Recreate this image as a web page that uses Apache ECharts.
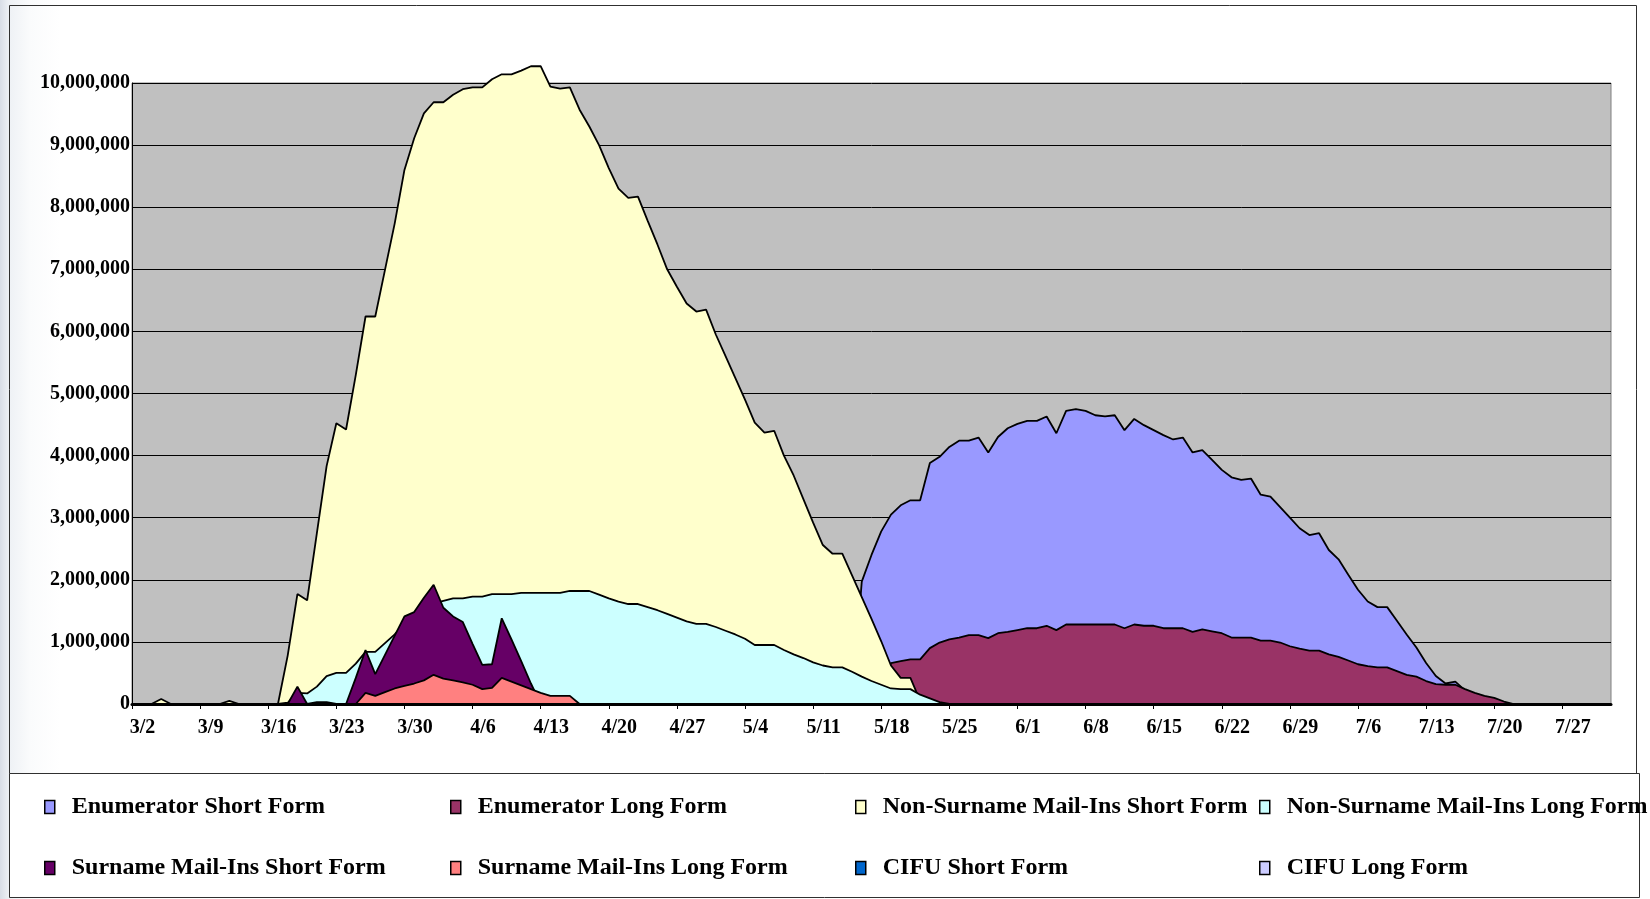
<!DOCTYPE html>
<html>
<head>
<meta charset="utf-8">
<title>Forms processed per day</title>
<script src="https://cdn.jsdelivr.net/npm/echarts@6/dist/echarts.min.js"></script>
<style>
    html, body { margin: 0; padding: 0; }
    body {
        width: 1650px; height: 899px; overflow: hidden;
        background: linear-gradient(to right, #d8dde6 0px, #eef1f5 9px, #fafbfc 30px, #ffffff 60px);
    }
    #chart { width: 1650px; height: 899px; }
</style>
</head>
<body>
<div id="chart"></div>
<script>
// days shown on the axis: 3/2 .. 8/1
const DAYS = 153;
const months = [[3, 31], [4, 30], [5, 31], [6, 30], [7, 31], [8, 31]];

// series values in millions of forms
// each list starts at the given day index, every other day is 0
const enumShortStart = 74;
const enumShort = [0, 1.97, 2.4, 2.78, 3.05, 3.2, 3.28, 3.28, 3.88, 3.98, 4.14, 4.24, 4.24, 4.29, 4.05, 4.3,
    4.44, 4.51, 4.56, 4.56, 4.63, 4.36, 4.72, 4.75, 4.72, 4.65, 4.63, 4.65, 4.41, 4.59, 4.49, 4.41, 4.33, 4.26,
    4.29, 4.05, 4.09, 3.93, 3.77, 3.65, 3.61, 3.63, 3.37, 3.34, 3.17, 3.0, 2.83, 2.72, 2.75, 2.48, 2.33, 2.08,
    1.84, 1.65, 1.56, 1.56, 1.34, 1.12, 0.91, 0.66, 0.45, 0.33, 0.36, 0.22, 0];

const enumLongStart = 77;
const enumLong = [0, 0.66, 0.69, 0.72, 0.72, 0.9, 0.99, 1.04, 1.07, 1.11, 1.11, 1.06, 1.14, 1.16, 1.19, 1.22,
    1.22, 1.26, 1.19, 1.28, 1.28, 1.28, 1.28, 1.28, 1.28, 1.22, 1.28, 1.26, 1.26, 1.22, 1.22, 1.22, 1.16, 1.2,
    1.17, 1.14, 1.07, 1.07, 1.07, 1.02, 1.02, 0.99, 0.93, 0.89, 0.86, 0.86, 0.8, 0.76, 0.7, 0.64, 0.61, 0.59,
    0.59, 0.53, 0.47, 0.44, 0.37, 0.32, 0.31, 0.31, 0.24, 0.18, 0.13, 0.1, 0.04, 0];

const nonSurnameShortStart = 0;
const nonSurnameShort = [0, 0, 0, 0.08, 0, 0, 0, 0, 0, 0, 0.05, 0, 0, 0, 0, 0,
    0.78, 1.77, 1.67, 2.75, 3.83, 4.52, 4.42, 5.3, 6.24, 6.24, 6.99, 7.74, 8.6, 9.11, 9.51, 9.69, 9.69, 9.81,
    9.9, 9.93, 9.93, 10.06, 10.14, 10.14, 10.2, 10.27, 10.27, 9.94, 9.91, 9.93, 9.57, 9.3, 9.0, 8.63, 8.3,
    8.15, 8.17, 7.78, 7.4, 7.0, 6.72, 6.45, 6.32, 6.35, 5.95, 5.6, 5.25, 4.9, 4.53, 4.37, 4.4, 4.0, 3.68, 3.3,
    2.92, 2.56, 2.42, 2.42, 2.07, 1.72, 1.37, 1.01, 0.62, 0.42, 0.42, 0.05, 0];

const nonSurnameLongStart = 16;
const nonSurnameLong = [0.02, 0.18, 0.17, 0.28, 0.45, 0.5, 0.5, 0.65, 0.84, 0.84, 0.98, 1.12, 1.3, 1.42,
    1.55, 1.62, 1.66, 1.7, 1.7, 1.73, 1.73, 1.77, 1.77, 1.77, 1.79, 1.79, 1.79, 1.79, 1.79, 1.82, 1.82, 1.82,
    1.76, 1.7, 1.65, 1.61, 1.61, 1.56, 1.51, 1.45, 1.39, 1.33, 1.29, 1.29, 1.24, 1.18, 1.12, 1.05, 0.95, 0.95,
    0.95, 0.87, 0.8, 0.74, 0.67, 0.62, 0.59, 0.59, 0.52, 0.44, 0.37, 0.31, 0.25, 0.24, 0.24, 0.15, 0.09, 0.03, 0];

const surnameShortStart = 16;
const surnameShort = [0, 0.28, 0, 0.03, 0.03, 0, 0, 0.42, 0.87, 0.48, 0.79, 1.1, 1.41, 1.48, 1.71, 1.92,
    1.55, 1.41, 1.32, 0.97, 0.63, 0.64, 1.38, 1.04, 0.69, 0.33, 0];

const surnameLongStart = 23;
const surnameLong = [0, 0.18, 0.13, 0.19, 0.25, 0.29, 0.33, 0.38, 0.47, 0.41, 0.38, 0.35, 0.31, 0.24, 0.26,
    0.42, 0.36, 0.3, 0.24, 0.18, 0.13, 0.13, 0.13, 0];

const cifuShort = [];
const cifuLong = [];

const names = [
    'Enumerator Short Form', 'Enumerator Long Form',
    'Non-Surname Mail-Ins Short Form', 'Non-Surname Mail-Ins Long Form',
    'Surname Mail-Ins Short Form', 'Surname Mail-Ins Long Form',
    'CIFU Short Form', 'CIFU Long Form'
];
const colors = ['#9999ff', '#993366', '#ffffcc', '#ccffff', '#660066', '#ff8080', '#0066cc', '#ccccff'];

// place a list on the full day range
function onDays(start, values) {
    const out = new Array(DAYS).fill(0);
    values.forEach((v, i) => { out[start + i] = v; });
    return out;
}

const categories = [];
(function () {
    let m = 0, d = 2;
    for (let i = 0; i < DAYS; i++) {
        categories.push(months[m][0] + '/' + d);
        d++;
        if (d > months[m][1]) { d = 1; m++; }
    }
})();

const seriesData = [
    onDays(enumShortStart, enumShort),
    onDays(enumLongStart, enumLong),
    onDays(nonSurnameShortStart, nonSurnameShort),
    onDays(nonSurnameLongStart, nonSurnameLong),
    onDays(surnameShortStart, surnameShort),
    onDays(surnameLongStart, surnameLong),
    onDays(0, cifuShort),
    onDays(0, cifuLong)
];

const FONT = "'Liberation Serif', 'Times New Roman', serif";

const chart = echarts.init(document.getElementById('chart'));

// legend: 2 rows x 4 columns
const legendCols = [44, 450, 855, 1259];
const legendRows = [795, 856];
const legends = names.map((name, i) => ({
    data: [name],
    left: legendCols[i % 4],
    top: legendRows[Math.floor(i / 4)],
    padding: 0,
    icon: 'rect',
    itemWidth: 10,
    itemHeight: 13,
    selectedMode: false,
    itemStyle: { borderColor: '#000', borderWidth: 1.5 },
    textStyle: {
        fontFamily: FONT, fontWeight: 'bold', fontSize: 24, color: '#000',
        padding: [0, 0, 0, 12], lineHeight: 24
    }
}));

const option = {
    animation: false,
    backgroundColor: 'transparent',
    color: colors,
    graphic: [
        {
            type: 'rect', silent: true, z: -1,
            shape: { x: 9.5, y: 5.5, width: 1627, height: 768 },
            style: { fill: 'none', stroke: '#303030', lineWidth: 1 }
        },
        {
            type: 'rect', silent: true, z: -1,
            shape: { x: 9.5, y: 773.5, width: 1630, height: 124 },
            style: { fill: '#ffffff', stroke: '#303030', lineWidth: 1 }
        }
    ],
    legend: legends,
    grid: {
        left: 132, right: 39, top: 83, bottom: 195,
        show: true, backgroundColor: '#c0c0c0', borderColor: '#808080', borderWidth: 1
    },
    xAxis: {
        type: 'category',
        data: categories,
        boundaryGap: false,
        z: 20,
        axisLine: { lineStyle: { color: '#000', width: 3 } },
        axisTick: { interval: 6, length: 5, lineStyle: { color: '#000', width: 1 } },
        axisLabel: {
            interval: 6, margin: 14,
            fontFamily: FONT, fontWeight: 'bold', fontSize: 20, color: '#000',
            padding: [0, 0, 0, 21]
        },
        splitLine: { show: false }
    },
    yAxis: {
        type: 'value',
        min: 0, max: 10, interval: 1,
        axisLine: { show: true, lineStyle: { color: '#000', width: 1 } },
        axisTick: { show: false },
        axisLabel: {
            margin: 2,
            fontFamily: FONT, fontWeight: 'bold', fontSize: 20, color: '#000',
            formatter: v => (v * 1000000).toLocaleString('en-US')
        },
        splitLine: { lineStyle: { color: '#000', width: 1 } }
    },
    // later series sit fully in front of earlier ones, outline included
    series: names.map((name, i) => ({
        name: name,
        type: 'line',
        z: 2 + i,
        data: seriesData[i],
        symbol: 'none',
        clip: false,
        itemStyle: { color: colors[i] },
        lineStyle: { color: '#000', width: 1.8 },
        areaStyle: { color: colors[i], opacity: 1 }
    }))
};

chart.setOption(option);
</script>
</body>
</html>
